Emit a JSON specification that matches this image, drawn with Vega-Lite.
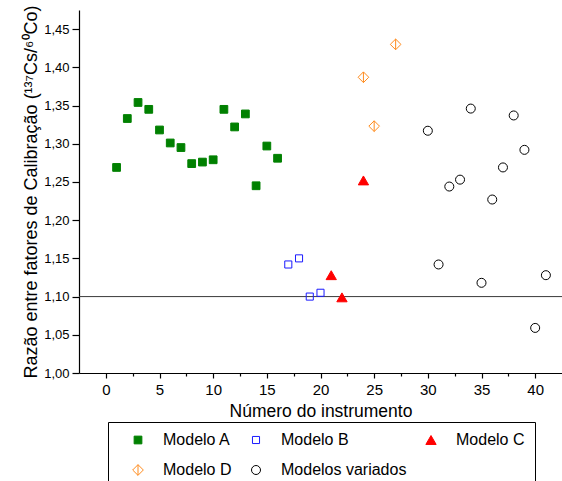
{
  "$schema": "https://vega.github.io/schema/vega-lite/v6.json",
  "width": 483,
  "height": 363,
  "autosize": {"type": "none"},
  "padding": {"left": 79, "top": 10, "right": 0, "bottom": 108},
  "background": "white",
  "config": {"view": {"stroke": null}, "font": "Liberation Sans"},
  "layer": [
    {
      "data": {"values": [{}]},
      "mark": {"type": "rule", "color": "#3a3a3a", "strokeWidth": 1},
      "encoding": {"y": {"datum": 1.1, "type": "quantitative"}}
    },
    {
      "data": {
        "values": [
          {"instrumento": 1, "razao": 1.269, "modelo": "Modelo A"},
          {"instrumento": 2, "razao": 1.333, "modelo": "Modelo A"},
          {"instrumento": 3, "razao": 1.354, "modelo": "Modelo A"},
          {"instrumento": 4, "razao": 1.345, "modelo": "Modelo A"},
          {"instrumento": 5, "razao": 1.318, "modelo": "Modelo A"},
          {"instrumento": 6, "razao": 1.301, "modelo": "Modelo A"},
          {"instrumento": 7, "razao": 1.295, "modelo": "Modelo A"},
          {"instrumento": 8, "razao": 1.274, "modelo": "Modelo A"},
          {"instrumento": 9, "razao": 1.276, "modelo": "Modelo A"},
          {"instrumento": 10, "razao": 1.279, "modelo": "Modelo A"},
          {"instrumento": 11, "razao": 1.345, "modelo": "Modelo A"},
          {"instrumento": 12, "razao": 1.322, "modelo": "Modelo A"},
          {"instrumento": 13, "razao": 1.339, "modelo": "Modelo A"},
          {"instrumento": 14, "razao": 1.245, "modelo": "Modelo A"},
          {"instrumento": 15, "razao": 1.297, "modelo": "Modelo A"},
          {"instrumento": 16, "razao": 1.281, "modelo": "Modelo A"},
          {"instrumento": 17, "razao": 1.142, "modelo": "Modelo B"},
          {"instrumento": 18, "razao": 1.150, "modelo": "Modelo B"},
          {"instrumento": 19, "razao": 1.100, "modelo": "Modelo B"},
          {"instrumento": 20, "razao": 1.105, "modelo": "Modelo B"},
          {"instrumento": 21, "razao": 1.128, "modelo": "Modelo C"},
          {"instrumento": 22, "razao": 1.099, "modelo": "Modelo C"},
          {"instrumento": 24, "razao": 1.252, "modelo": "Modelo C"},
          {"instrumento": 24, "razao": 1.387, "modelo": "Modelo D"},
          {"instrumento": 25, "razao": 1.323, "modelo": "Modelo D"},
          {"instrumento": 27, "razao": 1.430, "modelo": "Modelo D"},
          {"instrumento": 30, "razao": 1.317, "modelo": "Modelos variados"},
          {"instrumento": 31, "razao": 1.142, "modelo": "Modelos variados"},
          {"instrumento": 32, "razao": 1.244, "modelo": "Modelos variados"},
          {"instrumento": 33, "razao": 1.253, "modelo": "Modelos variados"},
          {"instrumento": 34, "razao": 1.346, "modelo": "Modelos variados"},
          {"instrumento": 35, "razao": 1.118, "modelo": "Modelos variados"},
          {"instrumento": 36, "razao": 1.227, "modelo": "Modelos variados"},
          {"instrumento": 37, "razao": 1.269, "modelo": "Modelos variados"},
          {"instrumento": 38, "razao": 1.337, "modelo": "Modelos variados"},
          {"instrumento": 39, "razao": 1.292, "modelo": "Modelos variados"},
          {"instrumento": 40, "razao": 1.059, "modelo": "Modelos variados"},
          {"instrumento": 41, "razao": 1.128, "modelo": "Modelos variados"}
        ]
      },
      "mark": {"type": "point", "opacity": 1, "strokeWidth": 1},
      "encoding": {
        "x": {
          "field": "instrumento",
          "type": "quantitative",
          "scale": {"domain": [-2.5, 42.5], "nice": false, "zero": false},
          "axis": {
            "title": "Número do instrumento",
            "titleFont": "Liberation Sans",
            "titleFontSize": 17.5,
            "titleFontWeight": "normal",
            "titleColor": "black",
            "titlePadding": 5,
            "values": [0, 2.5, 5, 7.5, 10, 12.5, 15, 17.5, 20, 22.5, 25, 27.5, 30, 32.5, 35, 37.5, 40],
            "labelExpr": "datum.value % 5 === 0 ? format(datum.value, 'd') : ''",
            "labelFontSize": 15,
            "labelColor": "black",
            "labelPadding": 4,
            "labelFlush": false,
            "labelOverlap": false,
            "grid": false,
            "domainColor": "black",
            "domainWidth": 1.2,
            "tickColor": "black",
            "tickWidth": 1.2,
            "tickSize": {"condition": {"test": "datum.value % 5 === 0", "value": 5}, "value": 3}
          }
        },
        "y": {
          "field": "razao",
          "type": "quantitative",
          "scale": {"domain": [1.0, 1.475], "nice": false, "zero": false},
          "axis": {
            "title": "Razão entre fatores de Calibração (¹³⁷Cs/⁶⁰Co)",
            "titleFont": "Liberation Sans",
            "titleFontSize": 18,
            "titleFontWeight": "normal",
            "titleColor": "black",
            "titlePadding": 3,
            "values": [1.0, 1.025, 1.05, 1.075, 1.1, 1.125, 1.15, 1.175, 1.2, 1.225, 1.25, 1.275, 1.3, 1.325, 1.35, 1.375, 1.4, 1.425, 1.45],
            "labelExpr": "abs(datum.value * 20 - round(datum.value * 20)) < 0.001 ? replace(format(datum.value, '.2f'), '.', ',') : ''",
            "labelFontSize": 13,
            "labelColor": "black",
            "labelPadding": 3,
            "labelFlush": false,
            "labelOverlap": false,
            "grid": false,
            "domainColor": "black",
            "domainWidth": 1.2,
            "tickColor": "black",
            "tickWidth": 1.2,
            "tickSize": {"condition": {"test": "abs(datum.value * 20 - round(datum.value * 20)) < 0.001", "value": 7}, "value": 4}
          }
        },
        "shape": {
          "field": "modelo",
          "type": "nominal",
          "scale": {
            "domain": ["Modelo A", "Modelo B", "Modelo C", "Modelo D", "Modelos variados"],
            "range": ["square", "square", "triangle-up", "M0,-1L1,0L0,1L-1,0Z M0,-1L0,1", "circle"]
          },
          "legend": {
            "title": null,
            "orient": "none",
            "legendX": 29,
            "legendY": 412,
            "columns": 3,
            "direction": "horizontal",
            "padding": 10,
            "strokeColor": "black",
            "fillColor": "white",
            "labelFontSize": 16,
            "labelFont": "Liberation Sans",
            "labelColor": "black",
            "labelLimit": 300,
            "symbolOffset": 12,
            "labelOffset": 17,
            "columnPadding": 4,
            "rowPadding": 14,
            "symbolStrokeWidth": 1
          }
        },
        "stroke": {
          "field": "modelo",
          "type": "nominal",
          "scale": {
            "domain": ["Modelo A", "Modelo B", "Modelo C", "Modelo D", "Modelos variados"],
            "range": ["#008000", "#1a1aff", "#ff0000", "#ff8c1e", "#000000"]
          }
        },
        "fill": {
          "field": "modelo",
          "type": "nominal",
          "scale": {
            "domain": ["Modelo A", "Modelo B", "Modelo C", "Modelo D", "Modelos variados"],
            "range": ["#008000", "transparent", "#ff0000", "transparent", "transparent"]
          }
        },
        "size": {
          "field": "modelo",
          "type": "nominal",
          "scale": {
            "type": "ordinal",
            "domain": ["Modelo A", "Modelo B", "Modelo C", "Modelo D", "Modelos variados"],
            "range": [60, 50, 106, 114, 81]
          }
        }
      }
    }
  ]
}
